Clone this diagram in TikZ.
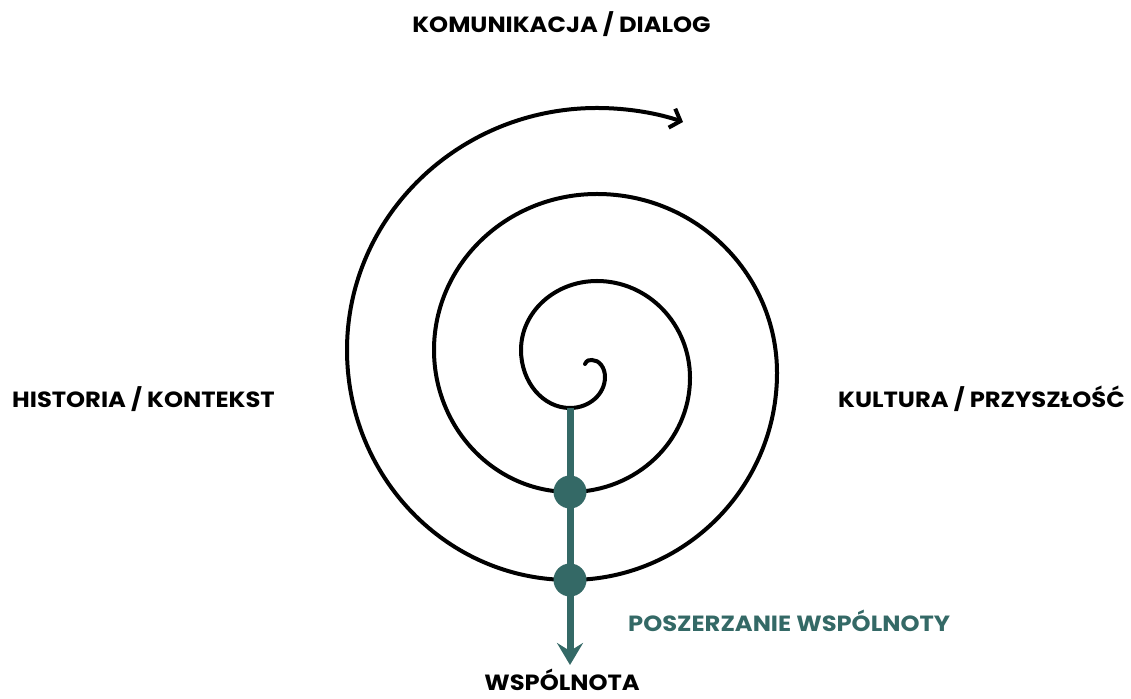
\documentclass[tikz,border=0pt]{standalone}
\usepackage{fontspec}
\setmainfont{Poppins}[FakeStretch=1.1]
\usetikzlibrary{arrows.meta, positioning}
\definecolor{morski}{HTML}{346966}
\tikzset{
  etykieta/.style={font=\fontsize{22}{25}\selectfont\bfseries, inner sep=0pt},
  kropka/.style={circle, fill=morski, minimum size=33pt, inner sep=0pt},
}

\begin{document}
\begin{tikzpicture}[x=1pt, y=1pt]
  \useasboundingbox (0,0) rectangle (1131,698);
  % punkty na osi
  \coordinate (b0) at (570,290);
  \coordinate (b1) at (570,206);
  \coordinate (b2) at (570,118);
  \coordinate (koniec) at (570,33);
  % spirala
  \draw[line width=4pt, line cap=round, -{Straight Barb[length=9pt, width=20pt]}]
    (585,334) .. controls (587,338) and (589,338) .. (592,338)
    arc[start angle=90, end angle=0, x radius=13, y radius=17]
    arc[start angle=0, end angle=-90, x radius=35, y radius=31]
    arc[start angle=-90, end angle=-180, x radius=49, y radius=58]
    arc[start angle=180, end angle=90, x radius=76, y radius=69]
    arc[start angle=90, end angle=0, x radius=93, y radius=97]
    arc[start angle=0, end angle=-90, x radius=120, y radius=114]
    arc[start angle=-90, end angle=-180, x radius=136, y radius=142]
    arc[start angle=180, end angle=90, x radius=163, y radius=156]
    arc[start angle=90, end angle=0, x radius=180, y radius=179]
    arc[start angle=0, end angle=-90, x radius=207, y radius=207]
    arc[start angle=-90, end angle=-180, x radius=223, y radius=230]
    arc[start angle=180, end angle=90, x radius=250, y radius=242]
    .. controls (630,590) and (660,584) .. (683,576);
  % wspolnota
  \draw[morski, line width=7pt, -{Stealth[length=22pt, width=26pt, inset=8pt]}] (b0) -- (koniec);
  \node[kropka] (w1) at (b1) {};
  \node[kropka] (w2) at (b2) {};
  % opisy
  \node[etykieta, anchor=base] (komunikacja) at (561.5,665) {KOMUNIKACJA / DIALOG};
  \node[etykieta, anchor=base west] (historia) at (12,290) {HISTORIA / KONTEKST};
  \node[etykieta, anchor=base east] (kultura) at (1125,290) {KULTURA / PRZYSZŁOŚĆ};
  \node[etykieta, anchor=base west, text=morski] (poszerzanie) at (628,66) {POSZERZANIE WSPÓLNOTY};
  \node[etykieta, anchor=base] (wspolnota) at (562,8) {WSPÓLNOTA};
\end{tikzpicture}
\end{document}
